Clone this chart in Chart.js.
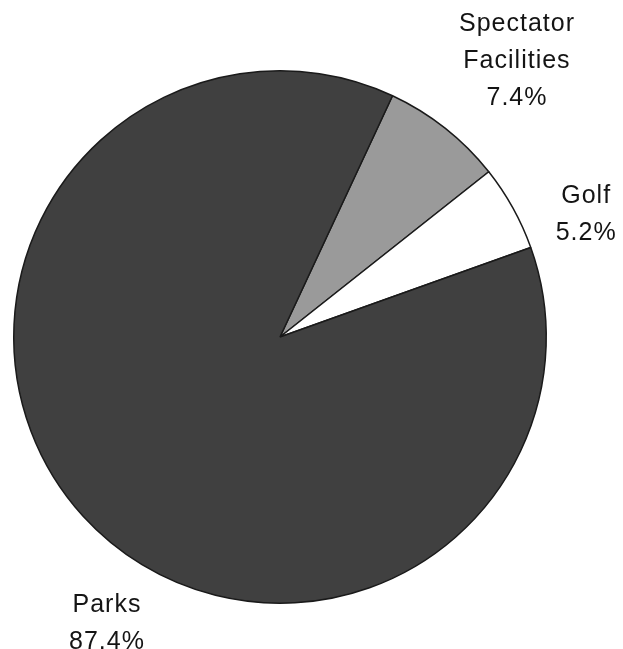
<!DOCTYPE html>
<html>
<head>
<meta charset="utf-8">
<script src="https://cdn.jsdelivr.net/npm/chart.js@4/dist/chart.umd.min.js"></script>
<style>
  html, body { margin: 0; padding: 0; background: #fff; }
  #wrap { width: 623px; height: 649px; position: relative; }
</style>
</head>
<body>
<div id="wrap"><canvas id="pieChart"></canvas></div>
<script>
// Chart data
const categories = ['Spectator Facilities', 'Golf', 'Parks'];
const shares = [7.4, 5.2, 87.4];
const labelLines = [['Spectator', 'Facilities', '7.4%'], ['Golf', '5.2%'], ['Parks', '87.4%']];
const sliceColors = ['#9a9a9a', '#ffffff', '#404040'];

// where each label sits, relative to the pie centre, in units of radius
const labelOffsets = [[0.89, -1.035], [1.15, -0.46], [-0.65, 1.075]];

// Draw outside labels anchored to the pie geometry
const outsideLabels = {
    id: 'outsideLabels',
    afterDatasetsDraw(chart) {
        const ctx = chart.ctx;
        const arc = chart.getDatasetMeta(0).data[0];
        const cx = arc.x, cy = arc.y, r = arc.outerRadius;
        ctx.save();
        ctx.fillStyle = '#141414';
        ctx.font = '25px "Liberation Sans", Arial, sans-serif';
        ctx.letterSpacing = '1px';
        ctx.textAlign = 'center';
        ctx.textBaseline = 'middle';
        const lineH = 37;
        labelLines.forEach((lines, i) => {
            const x = cx + labelOffsets[i][0] * r;
            const y = cy + labelOffsets[i][1] * r;
            const top = y - (lines.length - 1) * lineH / 2;
            lines.forEach((t, j) => ctx.fillText(t, x, top + j * lineH));
        });
        ctx.restore();
    }
};

const ctx = document.getElementById('pieChart').getContext('2d');
const pieChart = new Chart(ctx, {
    type: 'pie',
    data: {
        labels: categories,
        datasets: [{
            data: shares,
            backgroundColor: sliceColors,
            borderColor: '#1a1a1a',
            borderWidth: 1.5
        }]
    },
    options: {
        responsive: true,
        maintainAspectRatio: false,
        animation: false,
        rotation: 25,
        layout: {
            padding: { left: 13, right: 76, top: 70, bottom: 45 }
        },
        plugins: {
            legend: { display: false },
            tooltip: { enabled: false }
        }
    },
    plugins: [outsideLabels]
});
</script>
</body>
</html>
